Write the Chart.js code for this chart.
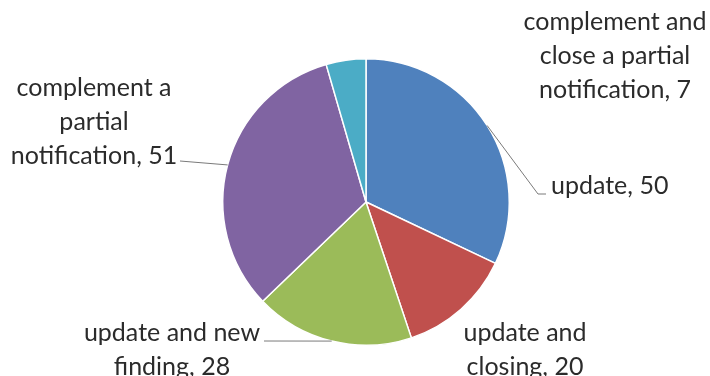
<!DOCTYPE html>
<html>
<head>
<meta charset="utf-8">
<script src="https://cdn.jsdelivr.net/npm/chart.js@4"></script>
<style>
  html, body { margin: 0; padding: 0; background: #fff; }
  #grafica { display: block; }
</style>
</head>
<body>
<canvas id="grafica" width="710" height="376"></canvas>
<script>
// ========== DATOS ===================
// category names, already broken into the lines used for the labels
const nameLines = [
  ["update"],
  ["update and", "closing"],
  ["update and new", "finding"],
  ["complement a", "partial", "notification"],
  ["complement and", "close a partial", "notification"]
];
const categories = nameLines.map(l => l.join(" "));
const counts = [50, 20, 28, 51, 7];
const colors = ["#4F81BD", "#C0504D", "#9BBB59", "#8064A2", "#4BACC6"];

// -------------- LABEL LAYOUT ----------------
// where each label block sits, and the elbow of its leader line (null = no line)
const labelPos = [
  { x: 551, y: 186, align: "left",   elbow: [[538, 194], [546, 194]] },
  { x: 525, y: 333, align: "center", elbow: null },
  { x: 172, y: 333, align: "center", elbow: [[264, 341]] },
  { x: 94,  y: 88,  align: "center", elbow: [[180, 161]] },
  { x: 615, y: 22,  align: "center", elbow: null }
];
const FONT = "25px Lato";
const LINE_H = 34;

// ========== PLUGIN ETIQUETAS ==========
const etiquetas = {
  id: "etiquetas",
  afterDatasetsDraw(chart) {
    const ctx = chart.ctx;
    const meta = chart.getDatasetMeta(0);
    ctx.save();
    meta.data.forEach((arc, i) => {
      const p = labelPos[i];
      // leader line from the middle of the slice's outer edge
      if (p.elbow) {
        const mid = (arc.startAngle + arc.endAngle) / 2;
        const sx = arc.x + Math.cos(mid) * arc.outerRadius;
        const sy = arc.y + Math.sin(mid) * arc.outerRadius;
        ctx.strokeStyle = "#7a7a7a";
        ctx.lineWidth = 1;
        ctx.beginPath();
        ctx.moveTo(sx, sy);
        p.elbow.forEach(pt => ctx.lineTo(pt[0], pt[1]));
        ctx.stroke();
      }
      const lines = nameLines[i].slice();
      lines[lines.length - 1] += ", " + counts[i];
      ctx.fillStyle = "#2b2b2b";
      ctx.font = FONT;
      ctx.textAlign = p.align;
      ctx.textBaseline = "middle";
      lines.forEach((t, k) => ctx.fillText(t, p.x, p.y + k * LINE_H));
    });
    ctx.restore();
  }
};

// ========== GRAFICA ==========
new Chart(document.getElementById("grafica"), {
  type: "pie",
  data: {
    labels: categories,
    datasets: [{
      data: counts,
      backgroundColor: colors,
      borderColor: "#ffffff",
      borderWidth: 1.5
    }]
  },
  options: {
    responsive: false,
    animation: false,
    layout: { padding: { left: 222, right: 200, top: 58, bottom: 30 } },
    plugins: { legend: { display: false }, tooltip: { enabled: false } }
  },
  plugins: [etiquetas]
});
</script>
</body>
</html>
